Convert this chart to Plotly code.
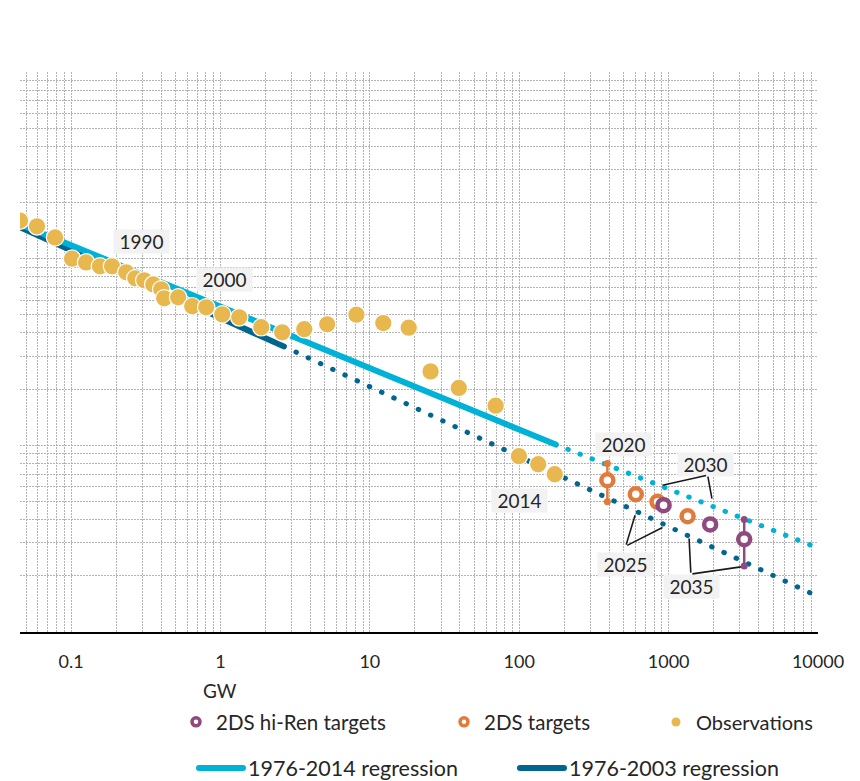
import numpy as np
import plotly.graph_objects as go

# ---------------- data ----------------
# Observations: cumulative capacity (GW) vs relative cost
obs_capacity_gw = [0.0455, 0.0591, 0.0781, 0.1015, 0.126, 0.156, 0.188, 0.234, 0.269, 0.309,
                   0.355, 0.401, 0.420, 0.521, 0.647, 0.803, 1.028, 1.336, 1.876, 2.59,
                   3.64, 5.18, 8.13, 12.3, 18.2, 25.5, 39.4, 69.5, 99.5, 134, 173]
obs_cost = [16.0, 14.9, 13.0, 10.0, 9.55, 9.10, 9.10, 8.45, 7.85, 7.66,
            7.28, 6.85, 6.13, 6.21, 5.56, 5.49, 5.03, 4.85, 4.29, 4.03,
            4.19, 4.45, 5.01, 4.52, 4.27, 2.49, 2.03, 1.63, 0.875, 0.792, 0.700]

# 2DS targets
t2ds_years = [2020, 2025, 2030, 2035]
t2ds_gw = [389, 603, 843, 1340]
t2ds_cost = [0.650, 0.547, 0.498, 0.417]
t2ds_2020_range = [0.498, 0.799]

# 2DS hi-Ren targets
hiren_years = [2025, 2030, 2035]
hiren_gw = [925, 1897, 3206]
hiren_cost = [0.478, 0.377, 0.314]
hiren_2035_range = [0.226, 0.401]

# Regression lines (end points), fitted part and projection
reg14_fit_gw = [0.0455, 175.4]
reg14_fit_cost = [15.3, 1.01]
reg14_proj_gw = [175.4, 10000]
reg14_proj_cost = [1.01, 0.282]
reg03_fit_gw = [0.0455, 2.65]
reg03_fit_cost = [14.75, 3.39]
reg03_proj_gw = [2.65, 10000]
reg03_proj_cost = [3.39, 0.155]

# Axis tick labels
x_tickvals = [0.1, 1, 10, 100, 1000, 10000]
x_ticktext = ["0.1", "1", "10", "100", "1000", "10000"]

# Year labels
year_labels = ["1990", "2000", "2014", "2020", "2025", "2030", "2035"]

# ---------------- styles ----------------
FONT = "Lato"
TXT = "#262626"
C_OBS = "#E8B84F"
C_CYAN = "#00B2D6"
C_DARK = "#00668F"
C_ORANGE = "#E07B3C"
C_PURPLE = "#8F4A80"
GRID = "#b3b3b3"

fig = go.Figure()

# projections (dotted)
fig.add_trace(go.Scatter(x=reg03_proj_gw, y=reg03_proj_cost, mode="lines",
                         line=dict(color=C_DARK, width=5, dash="0.5px,13px"),
                         showlegend=False, hoverinfo="skip"))
fig.add_trace(go.Scatter(x=reg14_proj_gw, y=reg14_proj_cost, mode="lines",
                         line=dict(color=C_CYAN, width=5, dash="0.5px,12.5px"),
                         showlegend=False, hoverinfo="skip"))
# fitted parts (solid)
fig.add_trace(go.Scatter(x=reg03_fit_gw, y=reg03_fit_cost, mode="lines",
                         line=dict(color=C_DARK, width=6),
                         showlegend=False, hoverinfo="skip"))
fig.add_trace(go.Scatter(x=reg14_fit_gw, y=reg14_fit_cost, mode="lines",
                         line=dict(color=C_CYAN, width=6),
                         showlegend=False, hoverinfo="skip"))
# observations
fig.add_trace(go.Scatter(x=obs_capacity_gw, y=obs_cost, mode="markers",
                         marker=dict(color=C_OBS, size=17.5, line=dict(color="white", width=1.2)),
                         showlegend=False))
# ranges
fig.add_trace(go.Scatter(x=[t2ds_gw[0], t2ds_gw[0]], y=t2ds_2020_range, mode="lines+markers",
                         line=dict(color=C_ORANGE, width=2.5), marker=dict(color=C_ORANGE, size=7),
                         showlegend=False, hoverinfo="skip"))
fig.add_trace(go.Scatter(x=[hiren_gw[-1], hiren_gw[-1]], y=hiren_2035_range, mode="lines+markers",
                         line=dict(color=C_PURPLE, width=2.5), marker=dict(color=C_PURPLE, size=7),
                         showlegend=False, hoverinfo="skip"))
# targets
fig.add_trace(go.Scatter(x=t2ds_gw, y=t2ds_cost, mode="markers", text=t2ds_years,
                         marker=dict(color="white", size=12, line=dict(color=C_ORANGE, width=4.5)),
                         showlegend=False))
fig.add_trace(go.Scatter(x=hiren_gw, y=hiren_cost, mode="markers", text=hiren_years,
                         marker=dict(color="white", size=12, line=dict(color=C_PURPLE, width=4.5)),
                         showlegend=False))

# legend-only entries
fig.add_trace(go.Scatter(x=[None], y=[None], mode="markers", name="2DS hi-Ren targets",
                         marker=dict(color="white", size=8, line=dict(color=C_PURPLE, width=3.5)),
                         legend="legend"))
fig.add_trace(go.Scatter(x=[None], y=[None], mode="markers", name="2DS targets",
                         marker=dict(color="white", size=8, line=dict(color=C_ORANGE, width=3.5)),
                         legend="legend2"))
fig.add_trace(go.Scatter(x=[None], y=[None], mode="markers", name="Observations",
                         marker=dict(color=C_OBS, size=9), legend="legend3"))
fig.add_trace(go.Scatter(x=[None], y=[None], mode="lines", name="1976-2014 regression",
                         line=dict(color=C_CYAN, width=6), legend="legend4"))
fig.add_trace(go.Scatter(x=[None], y=[None], mode="lines", name="1976-2003 regression",
                         line=dict(color=C_DARK, width=6), legend="legend5"))

# ---------------- layout helpers ----------------
L, R, T, B = 20, 818, 72, 632
PW, PH = R - L, B - T


def px_x(px):
    return (px - L) / PW


def px_y(py):
    return (B - py) / PH


def leg(left_px, center_py, size, itemwidth=30):
    return dict(x=px_x(left_px), y=px_y(center_py), xanchor="left", yanchor="middle",
                orientation="v", bgcolor="rgba(0,0,0,0)", borderwidth=0,
                font=dict(family=FONT, size=size, color=TXT), itemwidth=itemwidth)


# label annotations (positions in log10 data space)
label_pos = [(-0.5275, 1.090), (0.0288, 0.889), (2.0027, -0.294), (2.698, 0.0059),
             (2.7085, -0.6365), (3.249, -0.101), (3.153, -0.758)]
annotations = []
for txt, (lx, ly) in zip(year_labels, label_pos):
    annotations.append(dict(x=lx, y=ly, xref="x", yref="y", text=txt, showarrow=False,
                            bgcolor="#F2F2F2", borderpad=0, width=55, height=23,
                            font=dict(family=FONT, size=19, color=TXT)))

# leader lines: vertex -> two targets (log10 data space)
leaders = [
    ((2.713, -0.540), [(2.7755, -0.374), (2.959, -0.440)]),
    ((3.261, -0.160), [(2.959, -0.2136), (3.290, -0.285)]),
    ((3.149, -0.690), [(3.137, -0.499), (3.484, -0.651)]),
]
for (vx, vy), targets in leaders:
    for (tx, ty) in targets:
        annotations.append(dict(x=tx, y=ty, xref="x", yref="y", ax=vx, ay=vy,
                                axref="x", ayref="y", text="", showarrow=True,
                                arrowhead=0, arrowwidth=1.6, arrowcolor="#1a1a1a",
                                standoff=0, startstandoff=0))

annotations.append(dict(x=px_x(220), y=px_y(690), xref="paper", yref="paper", text="GW",
                        showarrow=False, xanchor="center", yanchor="middle",
                        font=dict(family=FONT, size=19, color=TXT)))

fig.update_layout(
    width=860, height=781,
    margin=dict(l=L, r=860 - R, t=T, b=781 - B, autoexpand=False),
    paper_bgcolor="white", plot_bgcolor="white",
    font=dict(family=FONT, color=TXT),
    annotations=annotations,
    legend=leg(176, 722, 20.5),
    legend2=leg(444, 722, 20.5),
    legend3=leg(656, 722, 20),
    legend4=leg(194, 768, 21.5, itemwidth=44),
    legend5=leg(515, 768, 21.5, itemwidth=44),
)

fig.update_xaxes(
    type="log", range=[np.log10(0.0455), np.log10(10000)],
    tickmode="array", tickvals=x_tickvals, ticktext=x_ticktext,
    tickfont=dict(family=FONT, size=18, color=TXT), ticks="", ticklabelstandoff=12,
    showline=True, linecolor="black", linewidth=2,
    showgrid=True, gridcolor=GRID, gridwidth=1, griddash="2px,1px",
    minor=dict(dtick="D1", showgrid=True, gridcolor=GRID, gridwidth=1, griddash="2px,1px"),
    zeroline=False,
)
fig.update_yaxes(
    type="log", range=[-1, 2], dtick=1, showticklabels=False, ticks="",
    showline=False,
    showgrid=True, gridcolor=GRID, gridwidth=1, griddash="2px,1px",
    minor=dict(dtick="D1", showgrid=True, gridcolor=GRID, gridwidth=1, griddash="2px,1px"),
    zeroline=False,
)

post = ("var s=document.createElement('style');"
        "s.textContent='body{margin:0 !important;} path.js-line{stroke-linecap:round;}';"
        "document.head.appendChild(s);")
fig.write_html("out.html", post_script=post, config={"displayModeBar": False})
